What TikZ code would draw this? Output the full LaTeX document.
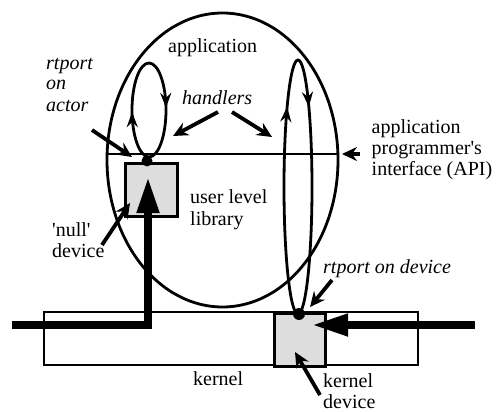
\documentclass[tikz,border=0pt]{standalone}
\usepackage{fontspec}
\setmainfont{Liberation Serif}[UprightFont=*, ItalicFont=* Italic]
\usetikzlibrary{arrows.meta,decorations.markings}
\definecolor{boxgrey}{HTML}{DDDDDD}
\begin{document}
\begin{tikzpicture}[x=1pt,y=-1pt,
  txt/.style={inner sep=0pt, anchor=base west, align=left, font=\fontsize{20}{21}\selectfont\rmfamily},
  itxt/.style={txt, font=\fontsize{20}{21}\selectfont\rmfamily\itshape},
  ptr/.style={line width=3.8pt, -{Stealth[length=15pt,width=14pt,inset=5pt]}},
  outline/.style={line width=2.8pt},
  greybox/.style={draw, line width=2.8pt, fill=boxgrey},
  bigarrow/.style={line width=7.5pt, -{Triangle[length=36pt,width=21pt]}},
  loopline/.style={line width=2.8pt, postaction={decorate}}
]
\useasboundingbox (0,0) rectangle (496,412);

% kernel
\draw[outline] (44,312) rectangle (418,365);
\node[greybox, minimum width=51pt, minimum height=53pt, inner sep=0pt, anchor=north west] (kdev) at (273,312) {};
% application ellipse
\draw[outline] (222.5,160) ellipse [x radius=115.5, y radius=147];
\coordinate (apiL) at (107.2,154);
\coordinate (apiR) at (337.8,154);
\draw[outline] (apiL) -- (apiR);
% user level library box
\node[greybox, minimum width=52pt, minimum height=53pt, inner sep=0pt, anchor=north west] (ulib) at (124,162) {};

% handler loops
\draw[loopline, decoration={markings,
    mark=at position 0.49 with {\arrow{Stealth[length=15pt,width=11pt,inset=5pt]}},
    mark=at position 0.99 with {\arrow{Stealth[length=15pt,width=11pt,inset=5pt]}}}]
  (149,110) ellipse [x radius=17, y radius=47];
\draw[loopline, decoration={markings,
    mark=at position 0.655 with {\arrow{Stealth[length=15pt,width=11pt,inset=5pt]}},
    mark=at position 0.845 with {\arrow{Stealth[length=15pt,width=11pt,inset=5pt]}}}]
  (298,187) ellipse [x radius=14, y radius=127];

% thick data paths
\coordinate (inL) at (12,325);
\coordinate (bend) at (148,325);
\coordinate (ulibTip) at (148,177);
\draw[bigarrow] (inL) -- (bend) -- (ulibTip);
\coordinate (inR) at (475,325);
\coordinate (kdevTip) at (312,325);
\draw[bigarrow] (inR) -- (kdevTip);

% rtports
\node[circle, fill=black, inner sep=0pt, minimum size=12pt] (rtdev) at (299,314) {};
\node[circle, fill=black, inner sep=0pt, minimum size=11pt] (rtact) at (147,161) {};

% labels (anchor = baseline of last line)
\node[txt] (appl) at (168,53) {application};
\node[itxt] (hand) at (182,105) {handlers};
\node[itxt] (rtactlbl) at (46,111) {rtport\\on\\actor};
\node[txt] (api) at (371.5,175.5) {application\\programmer\textquotesingle s\\interface (API)};
\node[txt] (ulbl) at (190,225) {user level\\library};
\node[txt] (null) at (52,257) {\textquotesingle null\textquotesingle\\device};
\node[txt] (kern) at (193,385) {kernel};
\node[itxt] (rtdevlbl) at (323,273) {rtport on device};
\node[txt] (kdevlbl) at (323,408) {kernel\\device};

% pointer arrows
\coordinate (a1) at (92,130);   \coordinate (a1t) at (132,157);
\coordinate (h1) at (218,112);  \coordinate (h1t) at (173,136);
\coordinate (h2) at (232,112);  \coordinate (h2t) at (272,137);
\coordinate (p1) at (360,154);  \coordinate (p1t) at (342,154);
\coordinate (n1) at (102,245);  \coordinate (n1t) at (130,203);
\coordinate (d1) at (332,280);  \coordinate (d1t) at (310,307);
\coordinate (k1) at (320,395);  \coordinate (k1t) at (295,352);
\draw[ptr] (a1) -- (a1t);
\draw[ptr] (h1) -- (h1t);
\draw[ptr] (h2) -- (h2t);
\draw[ptr] (p1) -- (p1t);
\draw[ptr] (n1) -- (n1t);
\draw[ptr] (d1) -- (d1t);
\draw[ptr] (k1) -- (k1t);
\end{tikzpicture}
\end{document}
